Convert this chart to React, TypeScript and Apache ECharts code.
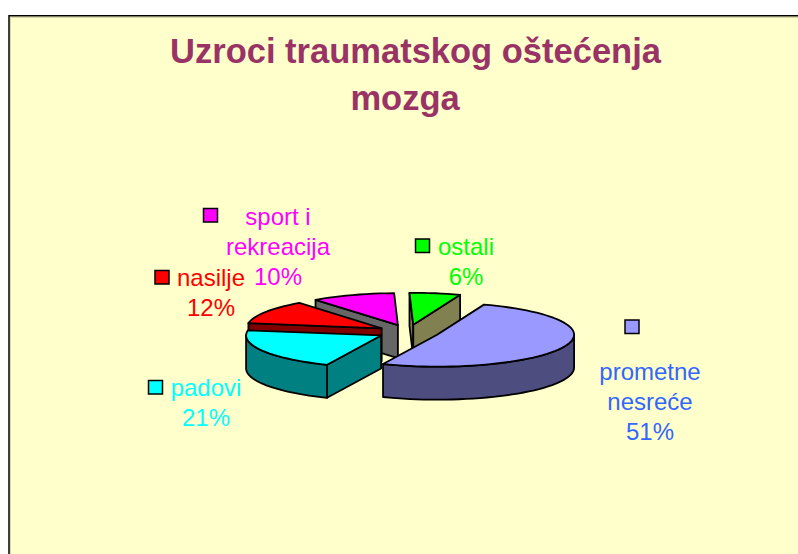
import React, { useEffect, useRef } from "react";
import * as echarts from "echarts";

const TITLE_LINES = ["Uzroci traumatskog oštećenja", "mozga"];
const categories = ["prometne nesreće", "padovi", "nasilje", "sport i rekreacija", "ostali"];
const shares = [51, 21, 12, 10, 6];

const topColors = ["#9999FF", "#00FFFF", "#FF0000", "#FF00FF", "#00FF00"];
const wallColors = ["#4D4D80", "#008080", "#800000", "#666666", "#808050"];
const labelColors = ["#3366FF", "#00FFFF", "#FF0000", "#FF00FF", "#00FF00"];

// Painter's order: back slices first.
const drawOrder = [3, 4, 2, 1, 0];

const PIE = { cx: 408.3, cy: 332, rxLeft: 135, rxRight: 137, ry: 32, explode: 31, depth: 33, startAngle: -70 };
const labelCenters = [
  [650, 401],
  [206, 402],
  [211, 292],
  [278, 246],
  [466, 261],
];
const keyBoxes = [
  [625, 320],
  [148.5, 380.5],
  [155, 270.5],
  [203.5, 208.5],
  [415.5, 239],
];

const rad = (d: number) => (d * Math.PI) / 180;
const total = shares.reduce((a, b) => a + b, 0);

function renderSlice(_params: any, api: any) {
  const value = api.value(0);
  const i = api.value(1);
  const before = shares.slice(0, i).reduce((a, b) => a + b, 0);
  const t0 = PIE.startAngle + (before / total) * 360;
  const t1 = t0 + (value / total) * 360;
  const mid = (t0 + t1) / 2;
  const cx = PIE.cx + PIE.explode * Math.cos(rad(mid));
  const cy = PIE.cy + (PIE.explode * PIE.ry * Math.sin(rad(mid))) / PIE.rxRight;
  const at = (t: number, dz = 0) => {
    const c = Math.cos(rad(t));
    return [cx + (c < 0 ? PIE.rxLeft : PIE.rxRight) * c, cy + PIE.ry * Math.sin(rad(t)) + dz];
  };
  const arcPts = (a: number, b: number, dz = 0) => {
    const n = Math.max(2, Math.ceil(Math.abs(b - a) / 3));
    const pts: number[][] = [];
    for (let k = 0; k <= n; k++) pts.push(at(a + ((b - a) * k) / n, dz));
    return pts;
  };
  const edge = { stroke: "#000", lineWidth: 1.8, lineJoin: "round" };
  const wall = { ...edge, fill: wallColors[i] };
  const children: any[] = [];
  const poly = (points: number[][], style: any) =>
    children.push({ type: "polygon", shape: { points }, style });
  const radialWall = (t: number) =>
    poly([[cx, cy], at(t), at(t, PIE.depth), [cx, cy + PIE.depth]], wall);

  if (Math.cos(rad(t0)) < 0) radialWall(t0);
  if (Math.cos(rad(t1)) > 0) radialWall(t1);
  // Front part of the rim, where the surface faces the viewer.
  const a = Math.max(t0, 0);
  const b = Math.min(t1, 180);
  if (b > a) {
    poly([...arcPts(a, b), ...arcPts(b, a, PIE.depth)], wall);
  }
  poly([[cx, cy], ...arcPts(t0, t1)], { ...edge, fill: topColors[i] });

  const [lx, ly] = labelCenters[i];
  const [kx, ky] = keyBoxes[i];
  children.push({
    type: "rect",
    shape: { x: kx, y: ky, width: 14, height: 13.5 },
    style: { fill: topColors[i], stroke: "#000", lineWidth: 1.5 },
  });
  children.push({
    type: "text",
    x: lx,
    y: ly,
    style: {
      text: `${categories[i].replace(/ (?=\S+$)/, "\n")}\n${value}%`,
      fill: labelColors[i],
      font: '24px "Liberation Sans", Arial, sans-serif',
      lineHeight: 30,
      align: "center",
      verticalAlign: "middle",
    },
  });
  return { type: "group", children };
}

const titleStyle = {
  color: "#993366",
  fontSize: 34.5,
  fontWeight: "bold",
  fontFamily: '"Liberation Sans", Arial, sans-serif',
};

export default function App() {
  const ref = useRef<HTMLDivElement>(null);
  useEffect(() => {
    const chart = echarts.init(ref.current!, null, { renderer: "svg", width: 798, height: 554 });
    chart.setOption({
      animation: false,
      backgroundColor: "#FFFFFF",
      title: [
        { text: TITLE_LINES[0], left: 415.5, top: 33, textAlign: "center", padding: 0, textStyle: titleStyle },
        { text: TITLE_LINES[1], left: 405, top: 80, textAlign: "center", padding: 0, textStyle: titleStyle },
      ],
      graphic: [
        {
          type: "group",
          silent: true,
          z: -10,
          children: [
            { type: "rect", shape: { x: 9, y: 16, width: 789, height: 538 }, style: { fill: "#FFFFCC" } },
            {
              type: "polyline",
              shape: { points: [[10.5, 554], [10.5, 17.5], [798, 17.5]] },
              style: { fill: "none", stroke: "#D8D8A8", lineWidth: 1 },
            },
            {
              type: "polyline",
              shape: { points: [[9, 554], [9, 15.75], [798, 15.75]] },
              style: { fill: "none", stroke: "#000", lineWidth: 1.5 },
            },
          ],
        },
      ],
      series: [
        {
          type: "custom",
          coordinateSystem: "none",
          silent: true,
          renderItem: renderSlice,
          data: drawOrder.map((i) => [shares[i], i]),
        },
      ],
    });
    return () => chart.dispose();
  }, []);
  return <div ref={ref} style={{ position: "fixed", left: 0, top: 0, width: 798, height: 554 }} />;
}
